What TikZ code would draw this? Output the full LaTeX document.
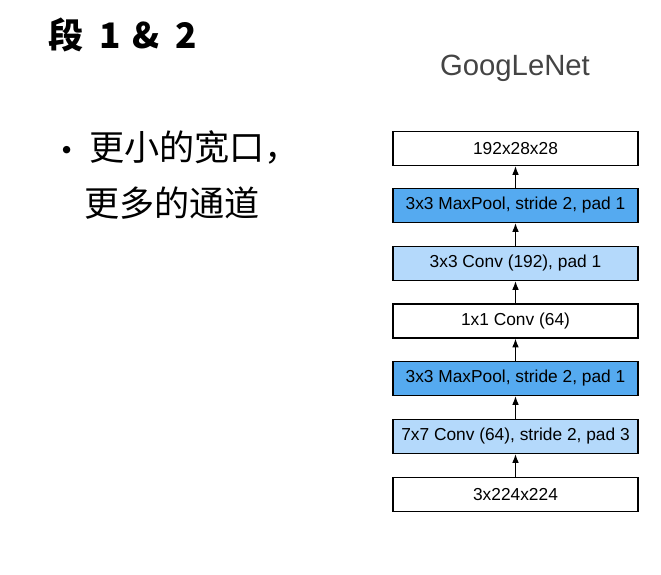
\documentclass[tikz,border=0pt]{standalone}
\usepackage{fontspec}
\setmainfont{Liberation Sans}
\newfontfamily\cjk{Noto Sans CJK SC}
\usetikzlibrary{arrows.meta}
\definecolor{GNDark}{HTML}{55AAF0}
\definecolor{GNLight}{HTML}{B4D9FB}
\definecolor{GNGray}{HTML}{444444}

\tikzset{
  layer/.style={draw=black,line width=1.1pt,minimum width=7.35cm,minimum height=1.02cm,
    inner sep=0pt,font=\fontsize{14.8}{16}\selectfont},
  pool/.style={layer,fill=GNDark},
  conv/.style={layer,fill=GNLight},
  flow/.style={-{Latex[length=2.6mm,width=2mm]},line width=1pt}
}

\begin{document}
\begin{tikzpicture}[x=0.03cm,y=-0.03cm]
  \useasboundingbox (0,0) rectangle (661,574);
  \node[anchor=west,font=\cjk\bfseries\fontsize{30}{34}\selectfont] (title) at (44,35)
    {段\hspace{0.45em}1\hspace{0.35em}\&\hspace{0.45em}2};
  \node[text=GNGray,font=\fontsize{25}{28}\selectfont] (net) at (515,68) {GoogLeNet};
  \node[font=\cjk\fontsize{30}{34}\selectfont] (dot) at (67,155) {·};
  \node[anchor=west,font=\cjk\fontsize{30}{34}\selectfont] (line1) at (85,147) {更小的宽口，};
  \node[anchor=west,font=\cjk\fontsize{30}{34}\selectfont] (line2) at (80,203) {更多的通道};

  \node[layer] (out) at (515.5,148.5) {192x28x28};
  \node[pool] (pool2) at (515.5,205.5) {3x3 MaxPool, stride 2, pad 1};
  \node[conv] (conv3) at (515.5,263.5) {3x3 Conv (192), pad 1};
  \node[layer] (conv1) at (515.5,321) {1x1 Conv (64)};
  \node[pool] (pool1) at (515.5,378.5) {3x3 MaxPool, stride 2, pad 1};
  \node[conv] (conv7) at (515.5,436.5) {7x7 Conv (64), stride 2, pad 3};
  \node[layer] (in) at (515.5,494.5) {3x224x224};

  \draw[flow] (in) -- (conv7);
  \draw[flow] (conv7) -- (pool1);
  \draw[flow] (pool1) -- (conv1);
  \draw[flow] (conv1) -- (conv3);
  \draw[flow] (conv3) -- (pool2);
  \draw[flow] (pool2) -- (out);
\end{tikzpicture}
\end{document}
